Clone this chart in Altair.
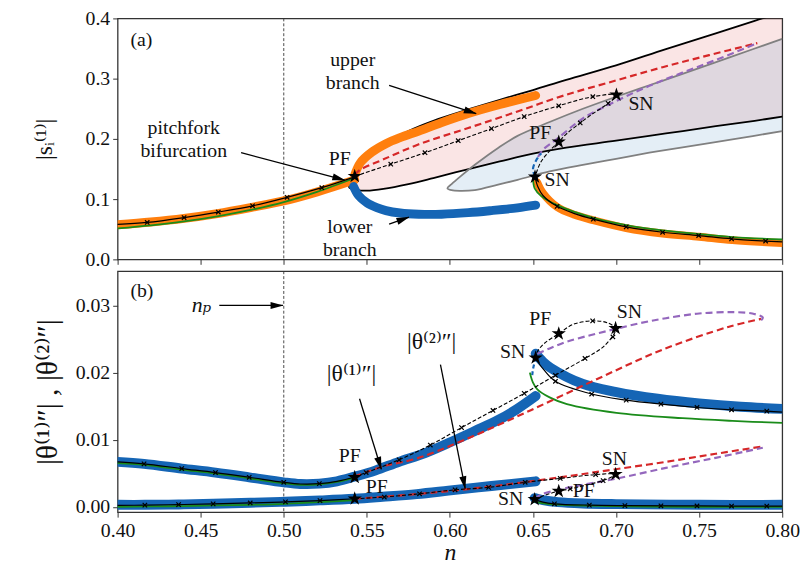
import math
import altair as alt
import pandas as pd

# ---------------- panel (a) data ----------------
a_orange_pre_n = [0.400, 0.420, 0.440, 0.460, 0.480, 0.500, 0.520, 0.5427]
a_orange_pre_y = [0.0575, 0.062, 0.068, 0.076, 0.086, 0.097, 0.112, 0.132]
a_orange_up_n = [0.5427, 0.5460, 0.5530, 0.5615, 0.5700, 0.5813, 0.5950, 0.6110, 0.6300, 0.6516]
a_orange_up_y = [0.140, 0.160, 0.178, 0.192, 0.202, 0.213, 0.227, 0.242, 0.257, 0.272]
a_blue_low_n = [0.5420, 0.5450, 0.5500, 0.5560, 0.5615, 0.5700, 0.5813, 0.5950, 0.6110, 0.6250, 0.6407, 0.6516]
a_blue_low_y = [0.121, 0.106, 0.094, 0.086, 0.081, 0.077, 0.075, 0.075, 0.0775, 0.081, 0.0856, 0.090]
a_orange_post_n = [0.6525, 0.6560, 0.6645, 0.6750, 0.6863, 0.7061, 0.7280, 0.7500, 0.7700, 0.8000]
a_orange_post_y = [0.128, 0.110, 0.087, 0.074, 0.065, 0.052, 0.043, 0.0375, 0.032, 0.027]
a_green_pre_n = [0.400, 0.420, 0.440, 0.460, 0.480, 0.500, 0.520, 0.5427]
a_green_pre_y = [0.0515, 0.0565, 0.063, 0.0715, 0.082, 0.095, 0.112, 0.135]
a_green_post_n = [0.6500, 0.6510, 0.6550, 0.6645, 0.6863, 0.7061, 0.7280, 0.7500, 0.7700, 0.8000]
a_green_post_y = [0.133, 0.118, 0.105, 0.090, 0.069, 0.057, 0.048, 0.042, 0.037, 0.033]
a_black_pre_n = [0.400, 0.4178, 0.4400, 0.4606, 0.4812, 0.5020, 0.5229, 0.5427]
a_black_pre_y = [0.0580, 0.0613, 0.0694, 0.0785, 0.0889, 0.103, 0.119, 0.137]
a_black_post_n = [0.6512, 0.6530, 0.6560, 0.6645, 0.6750, 0.6863, 0.7061, 0.7280, 0.7497, 0.7695, 0.7900, 0.8000]
a_black_post_y = [0.137, 0.120, 0.106, 0.088, 0.076, 0.0667, 0.054, 0.045, 0.0395, 0.034, 0.0304, 0.029]
a_loop_n = [0.5427, 0.5644, 0.5850, 0.6050, 0.6250, 0.6447, 0.6655, 0.6860, 0.7002,
            0.6952, 0.6850, 0.6784, 0.6700, 0.6655, 0.6600, 0.6546, 0.6512]
a_loop_y = [0.138, 0.158, 0.177, 0.197, 0.217, 0.237, 0.255, 0.270, 0.273,
            0.259, 0.240, 0.2265, 0.208, 0.195, 0.180, 0.161, 0.137]
a_red_n = [0.5427, 0.5456, 0.5600, 0.5813, 0.6110, 0.6407, 0.6685, 0.7000, 0.7280, 0.7560, 0.7850]
a_red_y = [0.140, 0.148, 0.166, 0.191, 0.218, 0.2455, 0.272, 0.297, 0.319, 0.339, 0.359]
a_purple_n = [0.6530, 0.6560, 0.6645, 0.6800, 0.7002, 0.7200, 0.7400, 0.7600, 0.7843]
a_purple_y = [0.170, 0.182, 0.200, 0.234, 0.263, 0.288, 0.310, 0.331, 0.358]
a_bluedash_n = [0.6512, 0.6500, 0.6520, 0.6550]
a_bluedash_y = [0.137, 0.150, 0.165, 0.176]
a_pink_n = [0.5393, 0.5410, 0.5440, 0.5500, 0.5600, 0.5750, 0.5900, 0.6100, 0.6300, 0.6500, 0.6700,
            0.7000, 0.7300, 0.7600, 0.7834, 0.8000]
a_pink_hi = [0.120, 0.135, 0.150, 0.168, 0.190, 0.213, 0.230, 0.248, 0.265, 0.281, 0.298,
             0.322, 0.349, 0.375, 0.396, 0.410]
a_pink_lo = [0.120, 0.117, 0.115, 0.114, 0.117, 0.125, 0.135, 0.149, 0.1625, 0.1755, 0.1855,
             0.197, 0.209, 0.221, 0.230, 0.237]
a_grey_n = [0.5985, 0.6010, 0.6060, 0.6150, 0.6290, 0.6407, 0.6600, 0.6800, 0.7000, 0.7200, 0.7400, 0.7700, 0.8000]
a_grey_hi = [0.118, 0.125, 0.137, 0.157, 0.185, 0.205, 0.228, 0.250, 0.270, 0.289, 0.308, 0.337, 0.366]
a_grey_lo = [0.118, 0.1148, 0.1137, 0.1150, 0.124, 0.132, 0.146, 0.157, 0.167, 0.177, 0.186, 0.199, 0.213]
a_xmark_n = [0.4178, 0.4400, 0.4606, 0.4812, 0.5020, 0.5229,
             0.5644, 0.5850, 0.6050, 0.6250, 0.6447, 0.6655, 0.6860, 0.6952, 0.6784,
             0.6645, 0.6863, 0.7061, 0.7280, 0.7497, 0.7695, 0.7900]
a_xmark_y = [0.0613, 0.0694, 0.0785, 0.0889, 0.103, 0.119,
             0.158, 0.177, 0.197, 0.217, 0.237, 0.255, 0.270, 0.259, 0.2265,
             0.088, 0.0667, 0.054, 0.045, 0.0395, 0.034, 0.0304]
a_star_n = [0.5427, 0.6655, 0.7002, 0.6512]
a_star_y = [0.138, 0.195, 0.273, 0.137]
a_text = ["(a)", "pitchfork", "bifurcation", "upper", "branch", "lower", "branch", "PF", "PF", "SN", "SN"]
a_text_n = [0.4077, 0.4398, 0.4398, 0.5415, 0.5415, 0.5397, 0.5397, 0.5337, 0.6544, 0.7150, 0.6645]
a_text_y = [0.364, 0.218, 0.180, 0.330, 0.293, 0.054, 0.015, 0.167, 0.210, 0.257, 0.132]
a_text_align = ["left", "center", "center", "center", "center", "center", "center", "center", "center", "center", "center"]
a_arrow_n = [0.4743, 0.5634, 0.5634]
a_arrow_y = [0.177, 0.289, 0.0585]
a_arrow_n2 = [0.5367, 0.6158, 0.5753]
a_arrow_y2 = [0.1317, 0.242, 0.070]

# ---------------- panel (b) data ----------------
b_blue_up_n = [0.400, 0.4159, 0.4386, 0.4589, 0.4792, 0.5000, 0.5100, 0.5214, 0.5320, 0.5427,
               0.5550, 0.5694, 0.5850, 0.5991, 0.6150, 0.6288, 0.6400, 0.6516]
b_blue_up_y = [0.0067, 0.0064, 0.0057, 0.0051, 0.0044, 0.00365, 0.0034, 0.00345, 0.0038, 0.0045,
               0.0054, 0.0067, 0.0080, 0.0095, 0.0113, 0.0129, 0.0145, 0.0165]
b_black_up_pre_n = [0.400, 0.4159, 0.4386, 0.4589, 0.4792, 0.5000, 0.5100, 0.5214, 0.5320, 0.5427]
b_black_up_pre_y = [0.0067, 0.0064, 0.0057, 0.0051, 0.0044, 0.00365, 0.0034, 0.00345, 0.0038, 0.0044]
b_green_up_pre_y = [0.0065, 0.00625, 0.00555, 0.00495, 0.00425, 0.0035, 0.00328, 0.00335, 0.0037, 0.0043]
b_loop_up_n = [0.5427, 0.5496, 0.5694, 0.5882, 0.6070, 0.6259, 0.6447, 0.6635, 0.6813, 0.6930, 0.6997,
               0.6950, 0.6859, 0.6744, 0.6655, 0.6566, 0.6526, 0.6516]
b_loop_up_y = [0.0045, 0.0051, 0.0070, 0.0092, 0.0118, 0.01435, 0.0169, 0.0196, 0.0221, 0.0240, 0.0265,
               0.0274, 0.0277, 0.0272, 0.0258, 0.0243, 0.0231, 0.0222]
b_black_up_post_n = [0.6516, 0.6540, 0.6566, 0.6635, 0.6853, 0.7061, 0.7270, 0.7487, 0.7695, 0.7907, 0.8000]
b_black_up_post_y = [0.0222, 0.0212, 0.0204, 0.0187, 0.0168, 0.0159, 0.0153, 0.0148, 0.01445, 0.01425, 0.0141]
b_blue_up_post_n = [0.6516, 0.6560, 0.6606, 0.6800, 0.7002, 0.7250, 0.7500, 0.7750, 0.8000]
b_blue_up_post_y = [0.0228, 0.0216, 0.0207, 0.0183, 0.0171, 0.0161, 0.0154, 0.0149, 0.0146]
b_green_up_post_n = [0.6482, 0.6500, 0.6526, 0.6600, 0.6704, 0.7002, 0.7400, 0.7700, 0.8000]
b_green_up_post_y = [0.0199, 0.0185, 0.0175, 0.0163, 0.0153, 0.0140, 0.0132, 0.0128, 0.0125]
b_bluedash_up_n = [0.6516, 0.6500, 0.6495]
b_bluedash_up_y = [0.0222, 0.0205, 0.0195]
b_red_up_n = [0.5427, 0.5595, 0.5800, 0.6090, 0.6487, 0.6883, 0.7279, 0.7675, 0.7873]
b_red_up_y = [0.0045, 0.0060, 0.0072, 0.0100, 0.0144, 0.0190, 0.0234, 0.0268, 0.0280]
b_purple_up_n = [0.6526, 0.6600, 0.6704, 0.6850, 0.6997, 0.7150, 0.7300, 0.7500, 0.7695, 0.7820, 0.7883, 0.7873]
b_purple_up_y = [0.0228, 0.0236, 0.0246, 0.0256, 0.0265, 0.0274, 0.0281, 0.0288, 0.0290, 0.0288, 0.0282, 0.0278]
b_blue_low_n = [0.400, 0.4164, 0.4367, 0.4575, 0.4798, 0.5010, 0.5218, 0.5427, 0.5595, 0.5800, 0.5991, 0.6250, 0.6516]
b_blue_low_y = [0.0003, 0.0003, 0.00035, 0.00045, 0.0006, 0.00075, 0.00095, 0.0012, 0.0015, 0.0019, 0.0024, 0.0031, 0.0038]
b_black_low_pre_n = [0.400, 0.4164, 0.4367, 0.4575, 0.4798, 0.5010, 0.5218, 0.5427]
b_black_low_pre_y = [0.0002, 0.00025, 0.00033, 0.00044, 0.00058, 0.00073, 0.00092, 0.0012]
b_green_low_pre_y = [0.0000, 0.00005, 0.0001, 0.0002, 0.0003, 0.00045, 0.0007, 0.0010]
b_loop_low_n = [0.5427, 0.5605, 0.5817, 0.6031, 0.6233, 0.6453, 0.6664, 0.6877, 0.6997,
                0.6943, 0.6830, 0.6724, 0.6655, 0.6580, 0.6510]
b_loop_low_y = [0.0012, 0.00146, 0.00194, 0.00253, 0.0029, 0.00365, 0.00423, 0.00480, 0.00486,
                0.0041, 0.0033, 0.00267, 0.00233, 0.0018, 0.0011]
b_red_low_n = [0.5427, 0.5600, 0.5892, 0.6200, 0.6487, 0.6750, 0.6997, 0.7300, 0.7600, 0.7883]
b_red_low_y = [0.0012, 0.0015, 0.0021, 0.0029, 0.0038, 0.0047, 0.0056, 0.0067, 0.0079, 0.0090]
b_purple_low_n = [0.6510, 0.6546, 0.6700, 0.6850, 0.7002, 0.7300, 0.7600, 0.7883]
b_purple_low_y = [0.0012, 0.0018, 0.0028, 0.0035, 0.0042, 0.0058, 0.0073, 0.0088]
b_blue_low_post_n = [0.6510, 0.6560, 0.6650, 0.6800, 0.7000, 0.7500, 0.8000]
b_blue_low_post_y = [0.0013, 0.0010, 0.0007, 0.0005, 0.0004, 0.0003, 0.0003]
b_black_low_post_n = [0.6510, 0.6560, 0.6629, 0.6839, 0.7053, 0.7500, 0.8000]
b_black_low_post_y = [0.0011, 0.0007, 0.00045, 0.00025, 0.00018, 0.00013, 0.0001]
b_green_low_post_n = [0.6500, 0.6600, 0.7000, 0.7500, 0.8000]
b_green_low_post_y = [0.0008, 0.0004, 0.0001, 0.0000, 0.0000]
b_xmark_n = [0.4159, 0.4386, 0.4589, 0.4792, 0.5000, 0.5214,
             0.5496, 0.5694, 0.5882, 0.6070, 0.6259, 0.6447, 0.6635, 0.6813, 0.6859, 0.6981,
             0.6635, 0.6853, 0.7061, 0.7270, 0.7487, 0.7695, 0.7907,
             0.4164, 0.4367, 0.4575, 0.4798, 0.5010, 0.5218,
             0.5605, 0.5817, 0.6031, 0.6233, 0.6453, 0.6664, 0.6877, 0.6922, 0.6724,
             0.6629, 0.6839, 0.7053, 0.7270, 0.7487, 0.7695, 0.7907]
b_xmark_y = [0.0064, 0.0057, 0.0051, 0.0044, 0.00365, 0.00345,
             0.0051, 0.0070, 0.0092, 0.0118, 0.01435, 0.0169, 0.0196, 0.0221, 0.0277, 0.0253,
             0.0187, 0.0168, 0.0159, 0.0153, 0.0148, 0.01445, 0.01425,
             0.00025, 0.00033, 0.00044, 0.00058, 0.00073, 0.00092,
             0.00146, 0.00194, 0.00253, 0.0029, 0.00365, 0.00423, 0.0048, 0.0039, 0.00267,
             0.00045, 0.00025, 0.00018, 0.00015, 0.00013, 0.00012, 0.0001]
b_star_n = [0.5427, 0.5427, 0.6655, 0.6997, 0.6516, 0.6997, 0.6655, 0.6510]
b_star_y = [0.0044, 0.0012, 0.0258, 0.0266, 0.0222, 0.00486, 0.00233, 0.0011]
b_text = ["(b)", "PF", "PF", "PF", "SN", "SN", "SN", "PF", "SN"]
b_text_n = [0.4077, 0.5397, 0.5560, 0.6544, 0.7080, 0.6378, 0.6990, 0.6805, 0.6366]
b_text_y = [0.0322, 0.0075, 0.0030, 0.0280, 0.0290, 0.0231, 0.0071, 0.0024, 0.0012]
b_text_align = ["left"] + ["center"] * 8
b_theta_text = ["|θ⁽¹⁾″|", "|θ⁽²⁾″|"]
b_theta_n = [0.5408, 0.5890]
b_theta_y = [0.0198, 0.0246]
b_np_text = ["nₚ"]
b_np_n = [0.4505]
b_np_y = [0.0300]
b_arrow_n = [0.4612, 0.5456, 0.5943]
b_arrow_y = [0.0300, 0.0161, 0.0212]
b_arrow_n2 = [0.4995, 0.5587, 0.6092]
b_arrow_y2 = [0.0300, 0.0056, 0.0027]

x_ticks = [0.40, 0.45, 0.50, 0.55, 0.60, 0.65, 0.70, 0.75, 0.80]
a_ticks = [0.0, 0.1, 0.2, 0.3, 0.4]
b_ticks = [0.00, 0.01, 0.02, 0.03]
n_p = [0.50]

# ---------------- styling ----------------
W, H = 673, 244
XD = [0.40, 0.80]
A_YD = [0.0, 0.4]
B_YD = [-0.0008, 0.0351]
SERIF = "Liberation Serif, DejaVu Serif, serif"
ORANGE, BLUE, GREEN = "#ff7f0e", "#1565b5", "#1a8c1a"
RED, PURPLE = "#d62728", "#9467bd"
STAR = ("M0,-1L0.225,-0.309L0.951,-0.309L0.363,0.118L0.588,0.809L0,0.382"
        "L-0.588,0.809L-0.363,0.118L-0.951,-0.309L-0.225,-0.309Z")
XMARK = "M-1,-1L1,1M-1,1L1,-1"
HEAD = "M1,0L-1,-0.55L-1,0.55Z"


def X(bottom):
    ax = dict(values=x_ticks, format=".2f", grid=False, domain=False, tickSize=5,
              tickColor="#333", labelFont=SERIF, labelFontSize=20, labelColor="#111",
              labelPadding=4, labelFlush=False)
    if bottom:
        ax.update(title="n", titleFont=SERIF, titleFontSize=24, titleFontStyle="italic",
                  titleFontWeight="normal", titleColor="#111", titlePadding=0)
    else:
        ax.update(title=None, labels=False)
    return alt.X("n:Q", scale=alt.Scale(domain=XD, nice=False, zero=False), axis=alt.Axis(**ax))


def Y(dom, ticks, fmt, title, tsize, tpad):
    ax = dict(values=ticks, format=fmt, grid=False, domain=False, tickSize=5, tickColor="#333",
              labelFont=SERIF, labelFontSize=20, labelColor="#111", labelPadding=3,
              labelFlush=False,
              minExtent=44, maxExtent=44, title=title, titleFont=SERIF, titleFontSize=tsize,
              titleFontWeight="normal", titleColor="#111", titlePadding=tpad)
    return alt.Y("y:Q", scale=alt.Scale(domain=dom, nice=False, zero=False), axis=alt.Axis(**ax))


def make(panel_bottom, dom, ticks, fmt, title, tsize, tpad):
    xe = X(panel_bottom)
    ye = Y(dom, ticks, fmt, title, tsize, tpad)

    def line(n, y, color, width, dash=None, cap="round"):
        df = pd.DataFrame({"n": n, "y": y, "o": list(range(len(n)))})
        kw = dict(color=color, strokeWidth=width, clip=True, strokeCap=cap,
                  strokeJoin="round", interpolate="catmull-rom")
        if dash:
            kw["strokeDash"] = dash
        return alt.Chart(df).mark_line(**kw).encode(x=xe, y=ye, order=alt.Order("o:Q"))

    def area(n, lo, hi, color, opacity):
        df = pd.DataFrame({"n": n, "y": lo, "y2": hi})
        return alt.Chart(df).mark_area(color=color, opacity=opacity, clip=True,
                                       interpolate="catmull-rom").encode(
            x=xe, y=ye, y2=alt.Y2("y2:Q"))

    def points(n, y, shape, size, filled, sw=1.0):
        df = pd.DataFrame({"n": n, "y": y})
        kw = dict(shape=shape, size=size, filled=filled, color="black", opacity=1, clip=True)
        if not filled:
            kw["strokeWidth"] = sw
        return alt.Chart(df).mark_point(**kw).encode(x=xe, y=ye)

    def texts(t, n, y, aligns, size=20, style="normal"):
        df = pd.DataFrame({"t": t, "n": n, "y": y, "a": aligns})
        out = []
        for al in sorted(set(aligns)):
            sub = df[df["a"] == al]
            out.append(alt.Chart(sub).mark_text(font=SERIF, fontSize=size, color="#111",
                                                align=al, baseline="middle",
                                                fontStyle=style).encode(
                x=xe, y=ye, text="t:N"))
        return out

    def arrows(n, y, n2, y2):
        sx = W / (XD[1] - XD[0])
        sy = H / (dom[1] - dom[0])
        hn, hy, ang = [], [], []
        for a0, b0, a1, b1 in zip(n, y, n2, y2):
            dx = (a1 - a0) * sx
            dy = -(b1 - b0) * sy
            L = math.hypot(dx, dy)
            ux, uy = dx / L, dy / L
            hn.append(a1 - 6 * ux / sx)
            hy.append(b1 + 6 * uy / sy)
            ang.append(math.degrees(math.atan2(dy, dx)) % 360)
        df = pd.DataFrame({"n": n, "y": y, "n2": n2, "y2": y2})
        hdf = pd.DataFrame({"n": hn, "y": hy, "ang": ang})
        r = alt.Chart(df).mark_rule(color="black", strokeWidth=1.3).encode(
            x=xe, y=ye, x2=alt.X2("n2:Q"), y2=alt.Y2("y2:Q"))
        h = alt.Chart(hdf).mark_point(shape=HEAD, size=170, filled=True, color="black",
                                      opacity=1).encode(
            x=xe, y=ye, angle=alt.Angle("ang:Q", scale=None))
        return [r, h]

    vline = alt.Chart(pd.DataFrame({"n": n_p})).mark_rule(
        color="#333", strokeWidth=0.9, strokeDash=[3, 2]).encode(x=xe)
    return line, area, points, texts, arrows, vline


# ---------------- panel (a) ----------------
line, area, points, texts, arrows, vline = make(False, A_YD, a_ticks, ".1f", "|sᵢ⁽¹⁾|", 24, 18)
a_layers = [
    area(a_pink_n, a_pink_lo, a_pink_hi, RED, 0.12),
    area(a_grey_n, a_grey_lo, a_grey_hi, "#1f77b4", 0.12),
    vline,
    line(a_pink_n[::-1] + a_pink_n[1:], a_pink_hi[::-1] + a_pink_lo[1:], "black", 1.8),
    line(a_grey_n[::-1] + a_grey_n[1:], a_grey_hi[::-1] + a_grey_lo[1:], "#808080", 1.8),
    line(a_orange_pre_n, a_orange_pre_y, ORANGE, 9),
    line(a_orange_up_n, a_orange_up_y, ORANGE, 9),
    line(a_blue_low_n, a_blue_low_y, BLUE, 9),
    line(a_orange_post_n, a_orange_post_y, ORANGE, 8),
    line(a_green_pre_n, a_green_pre_y, GREEN, 1.8),
    line(a_green_post_n, a_green_post_y, GREEN, 1.8),
    line(a_red_n, a_red_y, RED, 2.2, [7, 4], "butt"),
    line(a_purple_n, a_purple_y, PURPLE, 2.2, [7, 4], "butt"),
    line(a_bluedash_n, a_bluedash_y, BLUE, 2.2, [5, 3], "butt"),
    line(a_black_pre_n, a_black_pre_y, "black", 1.2),
    line(a_black_post_n, a_black_post_y, "black", 1.2),
    line(a_loop_n, a_loop_y, "black", 1.1, [4, 2], "butt"),
    points(a_xmark_n, a_xmark_y, XMARK, 20, False, 1.2),
    points(a_star_n, a_star_y, STAR, 230, True),
] + arrows(a_arrow_n, a_arrow_y, a_arrow_n2, a_arrow_y2) + texts(a_text, a_text_n, a_text_y, a_text_align)
top = alt.layer(*a_layers).properties(width=W, height=H)

# ---------------- panel (b) ----------------
line, area, points, texts, arrows, vline = make(True, B_YD, b_ticks, ".2f", "|θ⁽¹⁾″| ,  |θ⁽²⁾″|", 30, 12)
b_layers = [
    vline,
    line(b_blue_up_n, b_blue_up_y, BLUE, 10),
    line(b_blue_up_post_n, b_blue_up_post_y, BLUE, 10),
    line(b_blue_low_n, b_blue_low_y, BLUE, 10),
    line(b_blue_low_post_n, b_blue_low_post_y, BLUE, 10),
    line(b_bluedash_up_n, b_bluedash_up_y, BLUE, 2.2, [4, 3], "butt"),
    line(b_black_up_pre_n, b_green_up_pre_y, GREEN, 1.8),
    line(b_green_up_post_n, b_green_up_post_y, GREEN, 1.8),
    line(b_black_low_pre_n, b_green_low_pre_y, GREEN, 1.8),
    line(b_green_low_post_n, b_green_low_post_y, GREEN, 1.8),
    line(b_red_up_n, b_red_up_y, RED, 2.2, [7, 4], "butt"),
    line(b_purple_up_n, b_purple_up_y, PURPLE, 2.2, [7, 4], "butt"),
    line(b_red_low_n, b_red_low_y, RED, 2.2, [7, 4], "butt"),
    line(b_purple_low_n, b_purple_low_y, PURPLE, 2.2, [7, 4], "butt"),
    line(b_black_up_pre_n, b_black_up_pre_y, "black", 1.2),
    line(b_black_up_post_n, b_black_up_post_y, "black", 1.2),
    line(b_black_low_pre_n, b_black_low_pre_y, "black", 1.2),
    line(b_black_low_post_n, b_black_low_post_y, "black", 1.2),
    line(b_loop_up_n, b_loop_up_y, "black", 1.1, [4, 2], "butt"),
    line(b_loop_low_n, b_loop_low_y, "black", 1.1, [4, 2], "butt"),
    points(b_xmark_n, b_xmark_y, XMARK, 20, False, 1.2),
    points(b_star_n, b_star_y, STAR, 230, True),
] + arrows(b_arrow_n, b_arrow_y, b_arrow_n2, b_arrow_y2) \
  + texts(b_text, b_text_n, b_text_y, b_text_align) \
  + texts(b_theta_text, b_theta_n, b_theta_y, ["center", "center"], size=24) \
  + texts(b_np_text, b_np_n, b_np_y, ["center"], size=22, style="italic")
bot = alt.layer(*b_layers).properties(width=W, height=H)

chart = alt.vconcat(top, bot, spacing=12, bounds="flush").properties(
    padding={"left": 24, "top": -4, "right": 0, "bottom": 0}
).resolve_scale(x="independent", y="independent").configure_view(
    stroke="#333", strokeWidth=1.3
)

chart.save("out.html", embed_options={"renderer": "svg", "actions": False})
